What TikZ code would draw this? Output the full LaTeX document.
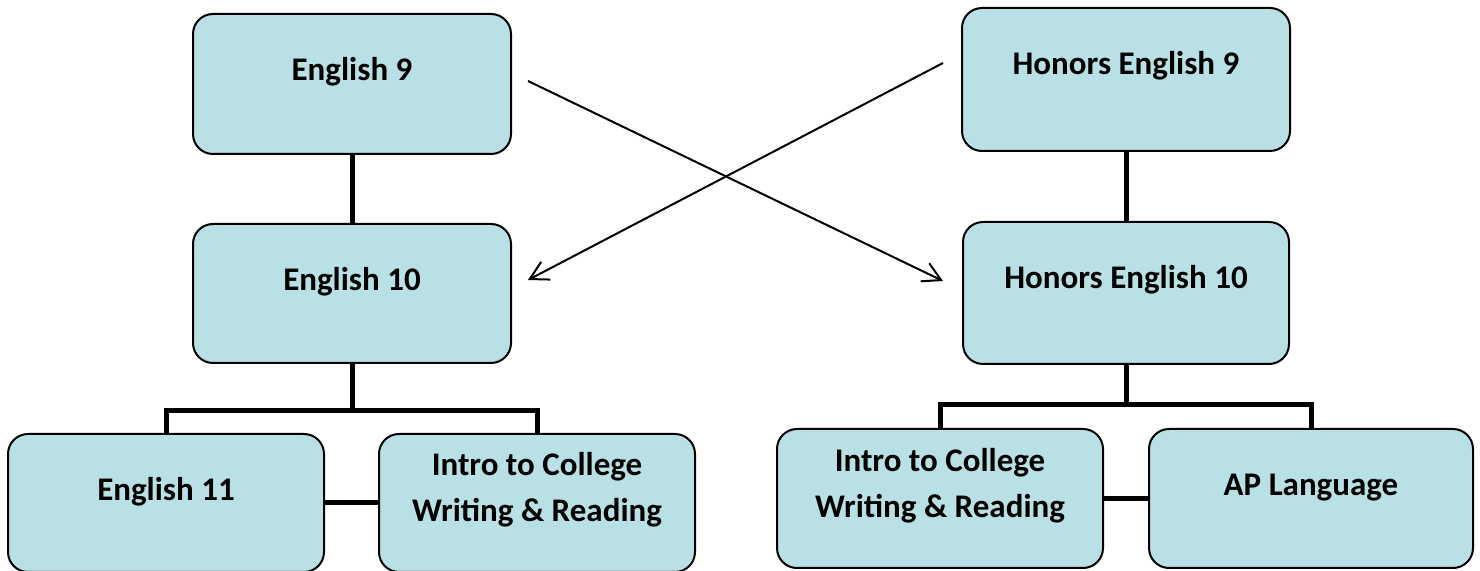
\documentclass[tikz,border=0pt]{standalone}
\usepackage{fontspec}
\setmainfont{Carlito}
\usetikzlibrary{arrows.meta,calc,positioning}
\definecolor{Aqua}{HTML}{B9E0E4}
\definecolor{Ink}{HTML}{000000}

\begin{document}
\begin{tikzpicture}[
    x=0.5pt, y=-0.5pt,
    course/.style={draw=Ink,line width=1pt,fill=Aqua,rounded corners=10pt,anchor=north west,
      inner xsep=0pt,inner ysep=0pt,align=center,
      font=\fontsize{16.5}{23}\selectfont\bfseries,
      text height=33.5pt,text depth=36.5pt},
    twoline/.style={text height=44pt},
    link/.style={line width=2.5pt,color=Ink},
    jump/.style={-{Straight Barb[length=9pt,width=10pt]},line width=1pt,color=Ink}
  ]
  \useasboundingbox (0,0) rectangle (1480,571);
  % standard track
  \node[course,minimum width=159pt] (eng9) at (192,13) {English 9};
  \node[course,minimum width=159pt,text depth=36pt] (eng10) at (192,223) {English 10};
  \node[course,minimum width=158pt,text depth=35.5pt] (eng11) at (7,433) {English 11};
  \node[course,twoline,minimum width=158pt,text depth=25pt] (introl) at (378,433)
    {Intro to College\\Writing \& Reading};
  % honors track
  \node[course,minimum width=164pt,text depth=38pt] (hon9) at (961,7) {Honors English 9};
  \node[course,minimum width=163pt,text depth=37.5pt] (hon10) at (962,221) {Honors English 10};
  \node[course,twoline,minimum width=163pt,text height=44.5pt,text depth=25pt] (intror) at (776,428)
    {Intro to College\\Writing \& Reading};
  \node[course,minimum width=162pt,text depth=36pt] (aplang) at (1148,428) {AP Language};
  % tree links
  \coordinate (lfork) at ($(eng10.south)+(0,47)$);
  \coordinate (rfork) at ($(hon10.south)+(0,40)$);
  \draw[link] (eng9.south) -- (eng10.north);
  \draw[link] (eng10.south) -- (lfork);
  \draw[link] (eng11.north) |- (lfork) -| (introl.north);
  \draw[link] (eng11.east) -- (introl.west);
  \draw[link] (hon9.south) -- (hon10.north);
  \draw[link] (hon10.south) -- (rfork);
  \draw[link] (intror.north) |- (rfork) -| (aplang.north);
  \draw[link] (intror.east) -- (aplang.west);
  % switching between tracks
  \coordinate (swA) at (528,81);
  \coordinate (swB) at (943,281);
  \coordinate (swC) at (943,63);
  \coordinate (swD) at (528,280);
  \draw[jump] (swA) -- (swB);
  \draw[jump] (swC) -- (swD);
\end{tikzpicture}
\end{document}
